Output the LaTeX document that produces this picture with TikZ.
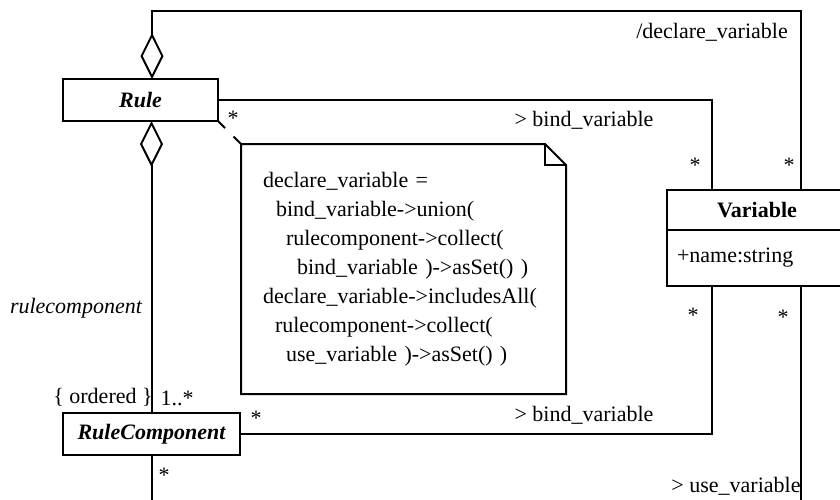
\documentclass[tikz,border=0pt]{standalone}
\usepackage{fontspec}
\setmainfont{Liberation Serif}
\usetikzlibrary{positioning,arrows.meta}

\begin{document}
\begin{tikzpicture}
		[x=1pt,y=-1pt,line width=2pt,font=\fontsize{22}{29}\selectfont,
		cls/.style={rectangle,draw,line width=2pt,inner sep=0pt,outer sep=0pt,minimum height=42pt,font=\fontsize{22}{29}\selectfont\bfseries\itshape},
		vhead/.style={rectangle,draw,line width=2pt,inner sep=0pt,outer sep=0pt,minimum width=180pt,minimum height=40pt,font=\fontsize{22}{29}\selectfont\bfseries},
		vattr/.style={rectangle,draw,line width=2pt,inner xsep=10pt,inner ysep=0pt,outer sep=0pt,text width=160pt,align=left,minimum height=56pt},
		aggr/.style={{Diamond[open,length=46pt,width=23pt]}-},
		lbl/.style={inner sep=0pt}]
		\useasboundingbox (0,0) rectangle (840,499);
		\clip (0,0) rectangle (840,499);

		\node [cls,minimum width=155pt] (rule) at (140.5,100) {Rule};
		\node [cls,minimum width=177pt] (rulecomp) at (151.5,434) {RuleComponent};
		\node [vhead] (var) at (757,210) {Variable};
		\node [vattr,below=0pt of var] (varattr) {+name:string};

		% note
		\node [inner xsep=21pt,inner ysep=0pt,text width=281pt,align=left,minimum height=248pt] (note) at (403.5,269)
			{declare\_variable =\\
			\hspace*{13pt}bind\_variable->union(\\
			\hspace*{23pt}rulecomponent->collect(\\
			\hspace*{34pt}bind\_variable )->asSet() )\\
			declare\_variable->includesAll(\\
			\hspace*{12pt}rulecomponent->collect(\\
			\hspace*{23pt}use\_variable )->asSet() )};
		\draw [line join=miter] (note.north west) -- ([xshift=-21pt]note.north east) -- ([yshift=-21pt]note.north east)
			-- (note.south east) -- (note.south west) -- cycle;
		\draw ([xshift=-21pt]note.north east) |- ([yshift=-21pt]note.north east);
		\draw [dash pattern=on 10pt off 12pt] (rule.south east) -- (note.north west);

		% associations
		\coordinate (dtop) at (801,11);
		\draw [aggr] ([xshift=11.5pt]rule.north) |- (dtop) -- (dtop |- var.north);
		\draw (rule.east) -| ([xshift=-45pt]var.north);
		\draw [aggr] (rule.south -| rulecomp.north) -- (rulecomp.north);
		\draw (rulecomp.east) -| ([xshift=-45pt]varattr.south);
		\draw ([xshift=44pt]varattr.south) -- ++(0,240);
		\draw (rulecomp.south) -- ++(0,70);

		% labels
		\node [lbl] (declbl) at (712,32) {/declare\_variable};
		\node [lbl] (bindtop) at (584,120) {> bind\_variable};
		\node [lbl] (bindbot) at (584,415) {> bind\_variable};
		\node [lbl] (uselbl) at (736,486) {> use\_variable};
		\node [lbl] (rclbl) at (76,308) {\itshape rulecomponent};
		\node [lbl] (ordlbl) at (103,397) {\{ ordered \}};
		\node [lbl] (multrc) at (177,398) {1..*};
		\node [lbl] (s1) at (233,118) {*};
		\node [lbl] (s2) at (695,165) {*};
		\node [lbl] (s3) at (789,165) {*};
		\node [lbl] (s4) at (693,315) {*};
		\node [lbl] (s5) at (783,317) {*};
		\node [lbl] (s6) at (256,418) {*};
		\node [lbl] (s7) at (164,475) {*};
	\end{tikzpicture}
\end{document}
